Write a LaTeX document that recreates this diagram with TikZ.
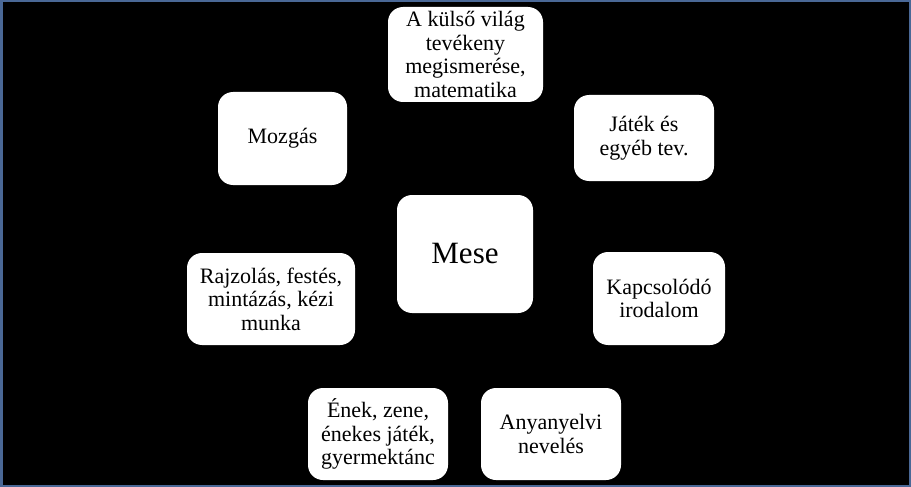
\documentclass[tikz,border=0pt]{standalone}
\usepackage{fontspec}
\setmainfont{Liberation Serif}
\definecolor{frameblue}{RGB}{74,104,150}
\begin{document}
\begin{tikzpicture}[x=1pt,y=-1pt,
  box/.style={fill=white,draw=none,rounded corners=15pt,align=center,text=black,inner sep=0pt,
    font=\fontsize{22}{23.5}\selectfont},
  bigbox/.style={box,font=\fontsize{31}{34}\selectfont}]
\fill[black] (0,0) rectangle (911,487);
\draw[frameblue,line width=2.5pt] (1.25,1.25) rectangle (909.75,485.75);
\useasboundingbox (0,0) rectangle (911,487);
% boxes
\path[box] (388,7) rectangle (543,102);
\node[box,fill=none] (kulso) at (465.5,54.5) {A külső világ\\tevékeny\\megismerése,\\matematika};
\path[box] (218,92) rectangle (347,185);
\node[box,fill=none] (mozgas) at (282.5,138.5) {Mozgás};
\path[box] (574,95) rectangle (714,181);
\node[box,fill=none] (jatek) at (644,138) {Játék és\\egyéb tev.};
\path[box] (397,195) rectangle (533,313);
\node[bigbox,fill=none] (mese) at (465,254) {Mese};
\path[box] (187,253) rectangle (355,345);
\node[box,fill=none] (rajz) at (271,299) {Rajzolás, festés,\\mintázás, kézi\\munka};
\path[box] (593,252) rectangle (725,345);
\node[box,fill=none] (kapcs) at (659,298.5) {Kapcsolódó\\irodalom};
\path[box] (308,388) rectangle (448,480);
\node[box,fill=none] (enek) at (378,434) {Ének, zene,\\énekes játék,\\gyermektánc};
\path[box] (481,388) rectangle (621,480);
\node[box,fill=none] (anya) at (551,434) {Anyanyelvi\\nevelés};
\end{tikzpicture}
\end{document}
